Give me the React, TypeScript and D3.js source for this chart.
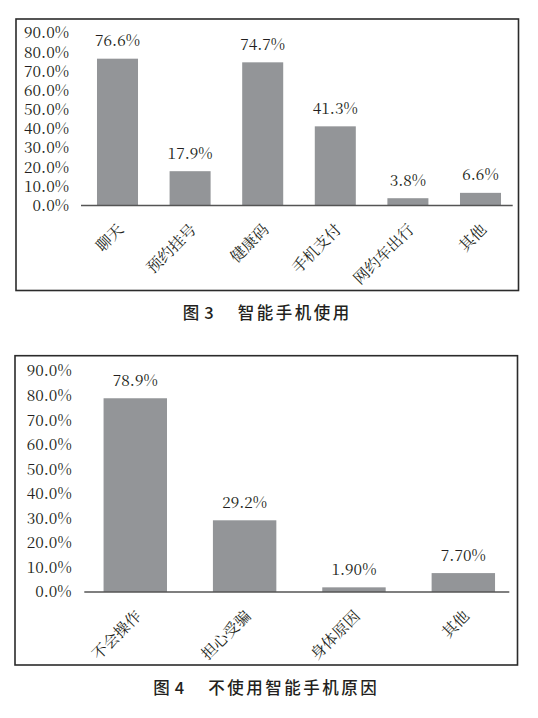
import * as d3 from "d3";

// figure 3: smartphone use
const useCats = ["聊天", "预约挂号", "健康码", "手机支付", "网约车出行", "其他"];
const useValues = [76.6, 17.9, 74.7, 41.3, 3.8, 6.6];
const useLabels = ["76.6%", "17.9%", "74.7%", "41.3%", "3.8%", "6.6%"];

// figure 4: reasons for not using
const reasonCats = ["不会操作", "担心受骗", "身体原因", "其他"];
const reasonValues = [78.9, 29.2, 1.9, 7.7];
const reasonLabels = ["78.9%", "29.2%", "1.90%", "7.70%"];

const yTicks = [0, 10, 20, 30, 40, 50, 60, 70, 80, 90];

// Liberation Serif digits come out sans here, the CJK serif has proper ones
const SERIF = "Noto Serif CJK SC, DejaVu Serif";
const CJK = "Noto Serif CJK SC, Noto Sans CJK SC";
const INK = "#231f20";
const BAR = "#939598";

type ChartProps = {
  cats: string[];
  values: number[];
  labels: string[];
  frame: number[]; // x0, y0, x1, y1
  yRange: number[];
  xRange: number[];
  pad: number;
  axisX: number[];
  tickX: number;
  capY: number;
  capNo: string;
  capText: string;
};

const Chart = (p: ChartProps) => {
  const y = d3.scaleLinear().domain([0, 90]).range(p.yRange);
  const x = d3
    .scaleBand()
    .domain(p.cats)
    .range(p.xRange as [number, number])
    .paddingInner(p.pad)
    .paddingOuter(p.pad / 2);
  const fmt = d3.format(".1f");
  const base = y(0);
  const num = { fontFamily: SERIF, fontSize: "15.5px", fill: INK };

  return (
    <g>
      <rect
        x={p.frame[0]}
        y={p.frame[1]}
        width={p.frame[2] - p.frame[0]}
        height={p.frame[3] - p.frame[1]}
        fill="none"
        stroke="#2b2b2b"
        strokeWidth={1.6}
      />
      {yTicks.map((t) => (
        <text key={t} x={p.tickX} y={y(t)} dy="0.35em" textAnchor="end" style={num}>
          {fmt(t) + "%"}
        </text>
      ))}
      {p.cats.map((c, i) => (
        <rect
          key={c}
          x={x(c)}
          y={y(p.values[i])}
          width={x.bandwidth()}
          height={base - y(p.values[i])}
          fill={BAR}
        />
      ))}
      <line
        x1={p.axisX[0]}
        x2={p.axisX[1]}
        y1={base}
        y2={base}
        stroke="#555"
        strokeWidth={1.6}
      />
      {p.cats.map((c, i) => (
        <text
          key={c + "v"}
          x={(x(c) as number) + x.bandwidth() / 2}
          y={y(p.values[i]) - 12.5}
          textAnchor="middle"
          style={num}
        >
          {p.labels[i]}
        </text>
      ))}
      {p.cats.map((c) => {
        const cx = (x(c) as number) + x.bandwidth() / 2 + 7;
        const cy = base + 25;
        return (
          <text
            key={c + "x"}
            transform={`translate(${cx},${cy}) rotate(-45)`}
            textAnchor="end"
            style={{ fontFamily: CJK, fontSize: "15.5px", fill: INK }}
          >
            {c}
          </text>
        );
      })}
      <text
        x={(p.frame[0] + p.frame[2]) / 2}
        y={p.capY}
        dy="0.36em"
        textAnchor="middle"
        style={{
          fontFamily: "Noto Sans CJK SC",
          fontWeight: 500,
          fontSize: "16.5px",
          fill: INK,
        }}
      >
        <tspan>图</tspan>
        <tspan dx={5}>{p.capNo}</tspan>
        <tspan dx={24} letterSpacing={2.5}>
          {p.capText}
        </tspan>
      </text>
    </g>
  );
};

export default function App() {
  return (
    <svg
      width={538}
      height={718}
      style={{ position: "absolute", left: 0, top: 0, background: "#fff" }}
    >
      <Chart
        cats={useCats}
        values={useValues}
        labels={useLabels}
        frame={[16, 19, 518.5, 290.5]}
        yRange={[205.5, 33]}
        xRange={[81.2, 516.8]}
        pad={0.435}
        axisX={[81, 512.7]}
        tickX={69}
        capY={312.7}
        capNo="3"
        capText="智能手机使用"
      />
      <Chart
        cats={reasonCats}
        values={reasonValues}
        labels={reasonLabels}
        frame={[15, 355.7, 517.5, 665]}
        yRange={[592, 371]}
        xRange={[80.6, 518]}
        pad={0.42}
        axisX={[84.3, 509.3]}
        tickX={71.7}
        capY={688.3}
        capNo="4"
        capText="不使用智能手机原因"
      />
    </svg>
  );
}
